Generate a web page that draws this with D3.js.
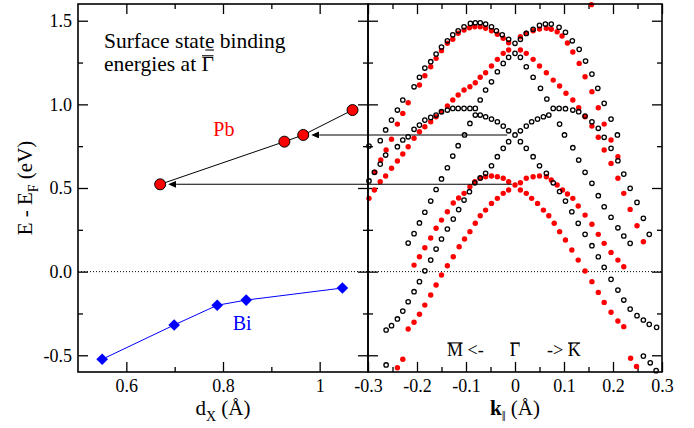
<!DOCTYPE html>
<html>
<head>
<meta charset="utf-8">
<script src="https://cdn.jsdelivr.net/npm/d3@7"></script>
<style>
  body { margin: 0; background: #fff; }
  svg text { font-family: "Liberation Serif", "Times New Roman", serif; fill: #000; }
</style>
</head>
<body>
<svg id="chart" width="694" height="428"></svg>
<script>
// left panel: binding energies vs d_X
const pbDx = [0.67, 0.927, 0.966, 1.068];
const pbE  = [0.522, 0.777, 0.817, 0.966];
const biDx = [0.55, 0.699, 0.788, 0.848, 1.047];
const biE  = [-0.524, -0.319, -0.201, -0.170, -0.098];

// arrows from the band plot (k start) to Pb points (index)
const arrowStartK = [-0.016, -0.006];
const arrowTarget = [2, 0];

// tick values
const dxMajor = [0.6, 0.8, 1.0];
const dxMinor = [0.7, 0.9];
const kMajor = [-0.3, -0.2, -0.1, 0, 0.1, 0.2, 0.3];
const kMinor = [-0.25, -0.15, -0.05, 0.05, 0.15, 0.25];
const eMajor = [-0.5, 0, 0.5, 1.0, 1.5];
const eMinor = [-0.25, 0.25, 0.75, 1.25];

// right panel: open (black) circles, [k, E]
const openUpperLeft = [[-0.298,0.751],[-0.275,0.783],[-0.264,0.847],[-0.252,0.906],[-0.240,0.966],[-0.229,1.026],
  [-0.206,1.105],[-0.195,1.162],[-0.184,1.217],[-0.172,1.255],[-0.161,1.301],[-0.150,1.343],[-0.138,1.380],
  [-0.127,1.416],[-0.116,1.440],[-0.104,1.464],[-0.091,1.484],[-0.081,1.488],[-0.071,1.488],[-0.060,1.480],
  [-0.048,1.464],[-0.038,1.440],[-0.026,1.416],[-0.013,1.389],[0.000,1.365]];
const openUpperRight = [[0.011,1.389],[0.023,1.424],[0.037,1.449],[0.050,1.472],[0.062,1.480],[0.074,1.480],
  [0.090,1.461],[0.103,1.431],[0.117,1.380],[0.131,1.329],[0.144,1.259],[0.157,1.181],[0.169,1.096],
  [0.182,1.006],[0.196,0.912],[0.209,0.817]];
const openCrossRight = [[0.000,1.305],[0.011,1.281],[0.023,1.225],[0.037,1.162],[0.052,1.096],[0.065,1.032],
  [0.091,0.882],[0.101,0.817],[0.118,0.741],[0.130,0.667],[0.143,0.594],[0.157,0.528],[0.170,0.454],
  [0.182,0.388],[0.196,0.325],[0.210,0.262],[0.222,0.213],[0.235,0.169]];
const openCrossLeft = [[-0.013,1.281],[-0.024,1.245],[-0.036,1.195],[-0.048,1.135],[-0.060,1.086],[-0.071,1.026],
  [-0.092,0.886],[-0.103,0.817],[-0.116,0.753],[-0.127,0.691],[-0.138,0.621],[-0.150,0.554],[-0.161,0.491],
  [-0.172,0.422],[-0.184,0.355],[-0.195,0.291],[-0.206,0.227],[-0.218,0.171]];
const openLowerLeft = [[-0.298,0.542],[-0.287,0.594],[-0.275,0.643],[-0.264,0.697],[-0.240,0.747],[-0.229,0.787],
  [-0.218,0.806],[-0.206,0.851],[-0.195,0.876],[-0.184,0.906],[-0.172,0.922],[-0.161,0.936],[-0.150,0.956],
  [-0.138,0.966],[-0.127,0.976],[-0.116,0.976],[-0.104,0.976],[-0.092,0.976],[-0.081,0.976]];
const openLowerLeftInner = [[-0.081,0.936],[-0.071,0.936],[-0.060,0.926],[-0.048,0.912],[-0.036,0.896],
  [-0.024,0.870],[-0.013,0.842],[0.000,0.817],[0.011,0.777],[0.023,0.737],[0.037,0.687],[0.050,0.633],
  [0.064,0.588],[0.078,0.531],[0.091,0.479],[0.103,0.422],[0.116,0.358],[0.129,0.289],[0.143,0.223],
  [0.157,0.155],[0.170,0.089],[0.182,0.026],[0.196,-0.046],[0.210,-0.110],[0.222,-0.170],[0.235,-0.224],
  [0.249,-0.263],[0.262,-0.289],[0.274,-0.315],[0.289,-0.333]];
const openLowerRight = [[0.078,0.976],[0.090,0.976],[0.103,0.974],[0.118,0.966],[0.130,0.956],[0.143,0.930],
  [0.157,0.896],[0.170,0.857],[0.182,0.803],[0.196,0.737],[0.210,0.663],[0.222,0.583],[0.235,0.498],
  [0.249,0.414],[0.262,0.319],[0.274,0.223]];
const openLowerRightInner = [[0.069,0.936],[0.058,0.926],[0.046,0.912],[0.034,0.896],[0.023,0.870],[0.011,0.842],
  [-0.013,0.777],[-0.024,0.737],[-0.036,0.687],[-0.048,0.633],[-0.060,0.588],[-0.071,0.560],[-0.082,0.531],
  [-0.093,0.478],[-0.104,0.428],[-0.115,0.371],[-0.126,0.314],[-0.138,0.255],[-0.150,0.195],[-0.161,0.135],
  [-0.172,0.069],[-0.184,0.005],[-0.195,-0.060],[-0.206,-0.120],[-0.218,-0.180],[-0.229,-0.236],
  [-0.240,-0.283],[-0.252,-0.323],[-0.263,-0.349]];
const openBottom = [[-0.263,-0.558],[0.262,-0.505],[0.276,-0.545],[0.288,-0.592]];

// right panel: filled (red) circles, [k, E]
const redUpperLeft = [[-0.286,0.594],[-0.274,0.667],[-0.263,0.727],[-0.252,0.791],[-0.240,0.882],[-0.229,0.946],
  [-0.218,1.010],[-0.195,1.116],[-0.184,1.171],[-0.172,1.225],[-0.161,1.275],[-0.150,1.321],[-0.138,1.365],
  [-0.127,1.389],[-0.116,1.425],[-0.104,1.444],[-0.093,1.458],[-0.082,1.464],[-0.071,1.464],[-0.060,1.455],
  [-0.048,1.440],[-0.036,1.419],[-0.024,1.395],[-0.013,1.368]];
const redUpperRight = [[0.011,1.404],[0.023,1.425],[0.037,1.440],[0.050,1.450],[0.064,1.455],[0.074,1.449],
  [0.086,1.434],[0.096,1.409],[0.107,1.367],[0.118,1.313],[0.131,1.245],[0.143,1.165],[0.157,1.076],
  [0.170,0.980],[0.182,0.882],[0.196,0.787],[0.210,0.687]];
const redLambdaLeft = [[-0.013,1.325],[-0.024,1.305],[-0.036,1.269],[-0.048,1.229],[-0.060,1.189],[-0.071,1.162],
  [-0.081,1.129],[-0.092,1.105],[-0.104,1.086],[-0.116,1.056],[-0.127,1.026],[-0.138,0.990],[-0.150,0.956],
  [-0.161,0.926],[-0.172,0.896],[-0.184,0.866],[-0.195,0.836],[-0.206,0.797],[-0.218,0.747],[-0.229,0.703],
  [-0.240,0.661],[-0.252,0.618],[-0.264,0.572],[-0.275,0.537],[-0.287,0.488],[-0.298,0.438]];
const redLambdaRight = [[0.011,1.325],[0.023,1.305],[0.037,1.269],[0.050,1.229],[0.064,1.189],[0.078,1.145],
  [0.091,1.110],[0.104,1.066],[0.118,1.026],[0.130,0.980],[0.143,0.926],[0.157,0.870],[0.170,0.803],
  [0.182,0.727],[0.196,0.647],[0.210,0.558],[0.222,0.468],[0.235,0.372],[0.249,0.274],[0.262,0.179]];
const redLowerLeft = [[-0.206,0.039],[-0.195,0.089],[-0.184,0.143],[-0.172,0.201],[-0.161,0.259],[-0.150,0.308],
  [-0.138,0.358],[-0.126,0.410],[-0.115,0.440],[-0.104,0.468],[-0.092,0.508],[-0.082,0.537],[-0.071,0.558],
  [-0.060,0.567],[-0.048,0.572],[-0.036,0.567],[-0.024,0.558],[-0.013,0.537],[0.000,0.518],[0.011,0.488],
  [0.023,0.468],[0.034,0.438],[0.046,0.408],[0.058,0.368],[0.069,0.334],[0.080,0.289],[0.091,0.239],
  [0.103,0.189],[0.116,0.129],[0.129,0.069],[0.143,0.004],[0.157,-0.060],[0.170,-0.124],[0.182,-0.184],
  [0.196,-0.243],[0.210,-0.295],[0.222,-0.329]];
const redLowerRight = [[-0.218,-0.343],[-0.206,-0.303],[-0.195,-0.255],[-0.184,-0.200],[-0.172,-0.140],
  [-0.161,-0.080],[-0.150,-0.020],[-0.138,0.035],[-0.126,0.089],[-0.114,0.149],[-0.103,0.195],[-0.092,0.239],
  [-0.081,0.289],[-0.071,0.334],[-0.060,0.368],[-0.048,0.408],[-0.036,0.438],[-0.024,0.468],[-0.013,0.488],
  [0.011,0.531],[0.023,0.558],[0.037,0.567],[0.050,0.572],[0.064,0.567],[0.074,0.548],[0.086,0.518],
  [0.097,0.488],[0.107,0.464],[0.118,0.438],[0.129,0.392],[0.143,0.338],[0.157,0.283],[0.170,0.223],
  [0.182,0.169],[0.196,0.115],[0.210,0.069],[0.222,0.029]];
const redStray = [[-0.229,-0.524],[-0.240,-0.575],[0.236,-0.518],[0.248,-0.567],[0.156,1.596]];

const openBands = [openUpperLeft, openUpperRight, openCrossRight, openCrossLeft, openLowerLeft,
  openLowerLeftInner, openLowerRight, openLowerRightInner, openBottom];
const redBands = [redUpperLeft, redUpperRight, redLambdaLeft, redLambdaRight, redLowerLeft, redLowerRight, redStray];

const svg = d3.select("#chart");
const margin = { top: 4, left: 78, split: 368, right: 662, bottom: 372 };
const red = "#ff0000", blue = "#0000ff";
const serif = "'Liberation Serif', 'Times New Roman', serif";

const xL = d3.scaleLinear().domain([0.5, 1.1]).range([margin.left, margin.split]);
const xR = d3.scaleLinear().domain([-0.3, 0.3]).range([margin.split, margin.right]);
const y = d3.scaleLinear().domain([-0.6, 1.6]).range([margin.bottom, margin.top]);

const fmtE = d => d.toFixed(1);
const fmtDx = d => d === 1 ? "1" : d.toFixed(1);
const fmtK = d => d === 0 ? "0" : d.toFixed(1);

function addAxis(axis, tx, ty) {
  const g = svg.append("g")
    .attr("transform", "translate(" + tx + "," + ty + ")")
    .call(axis);
  g.select(".domain").remove();
  g.attr("font-size", 18);
  g.selectAll("text").style("font-family", serif).style("font-size", "18px");
  g.selectAll("line").attr("stroke-width", 1.3);
  return g;
}

// left panel axes
addAxis(d3.axisBottom(xL).tickValues(dxMajor).tickSize(-10).tickPadding(7).tickFormat(fmtDx), 0, margin.bottom);
addAxis(d3.axisBottom(xL).tickValues(dxMinor).tickSize(-5).tickFormat(""), 0, margin.bottom);
addAxis(d3.axisTop(xL).tickValues(dxMajor).tickSize(-10).tickFormat(""), 0, margin.top);
addAxis(d3.axisTop(xL).tickValues(dxMinor).tickSize(-5).tickFormat(""), 0, margin.top);
addAxis(d3.axisLeft(y).tickValues(eMajor).tickSize(-10).tickPadding(6).tickFormat(fmtE), margin.left, 0);
addAxis(d3.axisLeft(y).tickValues(eMinor).tickSize(-5).tickFormat(""), margin.left, 0);
addAxis(d3.axisRight(y).tickValues(eMajor).tickSize(-10).tickFormat(""), margin.split, 0);
addAxis(d3.axisRight(y).tickValues(eMinor).tickSize(-5).tickFormat(""), margin.split, 0);

// right panel axes
addAxis(d3.axisBottom(xR).tickValues(kMajor).tickSize(-10).tickPadding(7).tickFormat(fmtK), 0, margin.bottom);
addAxis(d3.axisBottom(xR).tickValues(kMinor).tickSize(-5).tickFormat(""), 0, margin.bottom);
addAxis(d3.axisTop(xR).tickValues(kMajor).tickSize(-10).tickFormat(""), 0, margin.top);
addAxis(d3.axisTop(xR).tickValues(kMinor).tickSize(-5).tickFormat(""), 0, margin.top);
addAxis(d3.axisLeft(y).tickValues(eMajor).tickSize(-10).tickFormat(""), margin.split, 0);
addAxis(d3.axisLeft(y).tickValues(eMinor).tickSize(-5).tickFormat(""), margin.split, 0);
addAxis(d3.axisRight(y).tickValues(eMajor).tickSize(-10).tickFormat(""), margin.right, 0);
addAxis(d3.axisRight(y).tickValues(eMinor).tickSize(-5).tickFormat(""), margin.right, 0);

// zero line
svg.append("line")
  .attr("x1", margin.left).attr("x2", margin.right)
  .attr("y1", y(0)).attr("y2", y(0))
  .attr("stroke", "#000").attr("stroke-width", 1)
  .attr("stroke-dasharray", "1,2");

// band points
const bands = svg.append("g");
bands.selectAll("circle.red").data(redBands.flat())
  .join("circle")
  .attr("class", "red")
  .attr("cx", d => xR(d[0]))
  .attr("cy", d => y(d[1]))
  .attr("r", 2.7)
  .attr("fill", red);
bands.selectAll("circle.open").data(openBands.flat())
  .join("circle")
  .attr("class", "open")
  .attr("cx", d => xR(d[0]))
  .attr("cy", d => y(d[1]))
  .attr("r", 2.2)
  .attr("fill", "none")
  .attr("stroke", "#000")
  .attr("stroke-width", 1.3);

// Pb and Bi lines
const pbPts = pbDx.map((d, i) => [d, pbE[i]]);
const biPts = biDx.map((d, i) => [d, biE[i]]);
const line = d3.line().x(d => xL(d[0])).y(d => y(d[1]));

svg.append("path").attr("d", line(biPts))
  .attr("fill", "none").attr("stroke", blue).attr("stroke-width", 1);
svg.selectAll("path.bi").data(biPts)
  .join("path")
  .attr("class", "bi")
  .attr("d", d3.symbol(d3.symbolSquare, 68)())
  .attr("transform", d => "translate(" + xL(d[0]) + "," + y(d[1]) + ") rotate(45)")
  .attr("fill", blue);

svg.append("path").attr("d", line(pbPts))
  .attr("fill", "none").attr("stroke", "#000").attr("stroke-width", 1);

// arrows
svg.append("defs").append("marker")
  .attr("id", "arrowhead")
  .attr("markerUnits", "userSpaceOnUse")
  .attr("markerWidth", 8).attr("markerHeight", 7)
  .attr("refX", 0).attr("refY", 3.5)
  .attr("orient", "auto")
  .append("path").attr("d", "M0,0 L8,3.5 L0,7 Z").attr("fill", "#000");

arrowStartK.forEach((k, i) => {
  const p = pbPts[arrowTarget[i]];
  svg.append("line")
    .attr("x1", xR(k)).attr("y1", y(p[1]))
    .attr("x2", xL(p[0]) + 16).attr("y2", y(p[1]))
    .attr("stroke", "#000").attr("stroke-width", 1.1)
    .attr("marker-end", "url(#arrowhead)");
});

svg.selectAll("circle.pb").data(pbPts)
  .join("circle")
  .attr("class", "pb")
  .attr("cx", d => xL(d[0]))
  .attr("cy", d => y(d[1]))
  .attr("r", 5.5)
  .attr("fill", red)
  .attr("stroke", "#000")
  .attr("stroke-width", 1);

// frames
svg.append("rect")
  .attr("x", margin.left).attr("y", margin.top)
  .attr("width", margin.split - margin.left).attr("height", margin.bottom - margin.top)
  .attr("fill", "none").attr("stroke", "#000").attr("stroke-width", 1.6);
svg.append("rect")
  .attr("x", margin.split).attr("y", margin.top)
  .attr("width", margin.right - margin.split).attr("height", margin.bottom - margin.top)
  .attr("fill", "none").attr("stroke", "#000").attr("stroke-width", 1.6);

// bar over (offset < 0) or under (offset > 0) one character of a text
function charBar(text, index, offset) {
  const box = text.node().getExtentOfChar(index);
  const yb = offset < 0 ? box.y + box.height * 0.22 + offset : +text.attr("y") + offset;
  svg.append("line")
    .attr("x1", box.x + 0.5).attr("x2", box.x + box.width - 0.5)
    .attr("y1", yb).attr("y2", yb)
    .attr("stroke", "#000").attr("stroke-width", 1.1);
}

// labels
svg.append("text").attr("x", xL(0.78)).attr("y", y(0.81))
  .style("font-family", serif).style("font-size", "20px").style("fill", red).text("Pb");
svg.append("text").attr("x", xL(0.82)).attr("y", y(-0.35))
  .style("font-family", serif).style("font-size", "20px").style("fill", blue).text("Bi");

const note1 = svg.append("text").attr("x", 104).attr("y", 48)
  .style("font-family", serif).style("font-size", "21.5px").text("Surface state binding");
charBar(note1, 12, 2);
const note2 = svg.append("text").attr("x", 104).attr("y", 71)
  .style("font-family", serif).style("font-size", "21.5px").text("energies at \u0393");
charBar(note2, 12, -1.5);

// direction labels
const dirM = svg.append("text").attr("x", 447).attr("y", 356)
  .style("font-family", serif).style("font-size", "18px").text("M <-");
charBar(dirM, 0, -1.5);
const dirG = svg.append("text").attr("x", xR(0)).attr("y", 356).attr("text-anchor", "middle")
  .style("font-family", serif).style("font-size", "18px").text("\u0393");
charBar(dirG, 0, -1.5);
const dirK = svg.append("text").attr("x", 547).attr("y", 356)
  .style("font-family", serif).style("font-size", "18px").text("-> K");
charBar(dirK, 3, -1.5);

// axis titles
const xtL = svg.append("text").attr("x", xL(0.8)).attr("y", 415)
  .attr("text-anchor", "middle").style("font-family", serif).style("font-size", "21px");
xtL.append("tspan").text("d");
xtL.append("tspan").attr("dy", 6).style("font-size", "14px").text("X");
xtL.append("tspan").attr("dy", -6).text(" (\u00C5)");

const xtR = svg.append("text").attr("x", xR(0)).attr("y", 415)
  .attr("text-anchor", "middle").style("font-family", serif).style("font-size", "21px");
xtR.append("tspan").style("font-weight", "bold").text("k");
xtR.append("tspan").attr("dy", 6).style("font-size", "14px").text("\u2016");
xtR.append("tspan").attr("dy", -6).text(" (\u00C5)");

const yt = svg.append("text")
  .attr("transform", "translate(32," + y(0.5) + ") rotate(-90)")
  .attr("text-anchor", "middle").style("font-family", serif).style("font-size", "21px");
yt.append("tspan").text("E - E");
yt.append("tspan").attr("dy", 6).style("font-size", "14px").text("F");
yt.append("tspan").attr("dy", -6).text(" (eV)");
</script>
</body>
</html>
